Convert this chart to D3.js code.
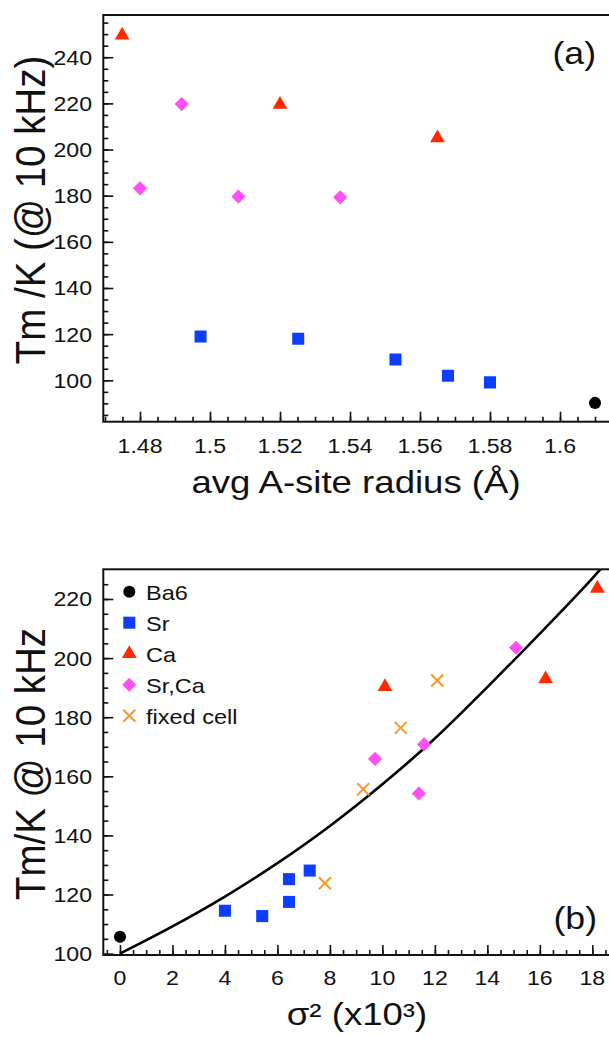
<!DOCTYPE html>
<html>
<head>
<meta charset="utf-8">
<script src="https://cdn.jsdelivr.net/npm/d3@7"></script>
<style>
  html, body { margin: 0; padding: 0; background: #fff; }
  svg { display: block; }
  text { font-family: "Liberation Sans", Arial, Helvetica, sans-serif; fill: #111; }
</style>
</head>
<body>
<svg id="fig" width="609" height="1037"></svg>
<script>
// ---------- panel (a): Tm versus average A-site radius ----------
const radiusBa6  = [[1.610, 90.2]];
const radiusSr   = [[1.4973, 119.0], [1.5252, 118.0], [1.5530, 109.0], [1.5680, 102.0], [1.5800, 99.1]];
const radiusCa   = [[1.4749, 249.5], [1.5200, 219.5], [1.5650, 205.0]];
const radiusSrCa = [[1.4800, 183.2], [1.4919, 219.7], [1.5081, 179.6], [1.5372, 179.3]];

const ticksRadius      = [1.48, 1.50, 1.52, 1.54, 1.56, 1.58, 1.60];
const tickLabelsRadius = ["1.48", "1.5", "1.52", "1.54", "1.56", "1.58", "1.6"];
const ticksTmA         = [100, 120, 140, 160, 180, 200, 220, 240];

// ---------- panel (b): Tm versus sigma^2 ----------
const sigmaBa6   = [[0, 105.7]];
const sigmaSr    = [[4.0, 114.5], [5.42, 112.7], [6.44, 125.2], [6.44, 117.5], [7.23, 128.1]];
const sigmaCa    = [[10.1, 190.3], [16.22, 192.9], [18.19, 223.6]];
const sigmaSrCa  = [[9.72, 165.9], [11.59, 170.8], [11.39, 154.2], [15.09, 203.5]];
const sigmaFixed = [[7.81, 123.8], [9.27, 155.6], [10.7, 176.4], [12.09, 192.4]];
// fitted trend line, sampled along sigma^2
const sigmaFit   = [[0, 100], [2, 109.2], [4, 119.3], [6, 130.6], [8, 143.2], [10, 157.3],
                    [12, 172.8], [14, 190.2], [16, 208.3], [18, 227.0], [19, 237.0]];

const ticksSigma = [0, 2, 4, 6, 8, 10, 12, 14, 16, 18];
const ticksTmB   = [100, 120, 140, 160, 180, 200, 220];

const legendNames = ["Ba6", "Sr", "Ca", "Sr,Ca", "fixed cell"];

// ---------- styling ----------
const COL = { ba6: "#000000", sr: "#0d3dff", ca: "#ff2a00", srca: "#ff4ff6", fixed: "#f39a2c" };
const SYM = {
  ba6:  { type: d3.symbolCircle,   size: 115, rot: 0 },
  sr:   { type: d3.symbolSquare,   size: 145, rot: 0 },
  ca:   { type: d3.symbolTriangle, size: 95,  rot: 0 },
  srca: { type: d3.symbolSquare,   size: 100, rot: 45 }
};
const FONT = "Liberation Sans, Arial, Helvetica, sans-serif";

const svg = d3.select("#fig");

function stretchedText(parent, x, y, str, size, sx, anchor) {
  return parent.append("text")
    .attr("transform", `translate(${x},${y}) scale(${sx},1)`)
    .attr("text-anchor", anchor || "middle")
    .style("font-size", size + "px")
    .text(str);
}

function drawMarkers(g, data, key, x, y) {
  if (key === "fixed") {
    const h = 6;
    g.selectAll(null).data(data).enter().append("path")
      .attr("d", d => {
        const cx = x(d[0]), cy = y(d[1]);
        return `M${cx - h},${cy - h}L${cx + h},${cy + h}M${cx - h},${cy + h}L${cx + h},${cy - h}`;
      })
      .attr("stroke", COL.fixed).attr("stroke-width", 2).attr("fill", "none");
    return;
  }
  const s = SYM[key];
  g.selectAll(null).data(data).enter().append("path")
    .attr("d", d3.symbol().type(s.type).size(s.size))
    .attr("transform", d => `translate(${x(d[0])},${y(d[1])}) rotate(${s.rot})`)
    .attr("fill", COL[key]);
}

function panel(opts) {
  const { left, right, top, bottom, xDomain, yDomain } = opts;
  const x = d3.scaleLinear().domain(xDomain).range([left, right]);
  const y = d3.scaleLinear().domain(yDomain).range([bottom, top]);
  const g = svg.append("g");

  const clipId = "clip" + opts.name;
  svg.append("clipPath").attr("id", clipId)
    .append("rect").attr("x", left).attr("y", top)
    .attr("width", right - left).attr("height", bottom - top);

  // minor and major ticks on the bottom edge, pointing inward
  const xAxisMinor = d3.axisTop(x).tickValues(opts.xMinor).tickSize(5).tickFormat("");
  const xAxisMajor = d3.axisTop(x).tickValues(opts.xMajor).tickSize(10).tickFormat("");
  const yAxisMinor = d3.axisRight(y).tickValues(opts.yMinor).tickSize(5).tickFormat("");
  const yAxisMajor = d3.axisRight(y).tickValues(opts.yMajor).tickSize(10).tickFormat("");
  [xAxisMinor, xAxisMajor].forEach(ax => {
    const a = g.append("g").attr("transform", `translate(0,${bottom})`).call(ax);
    a.select(".domain").remove();
    a.selectAll("line").attr("stroke", "#111").attr("stroke-width", 1.6);
  });
  [yAxisMinor, yAxisMajor].forEach(ax => {
    const a = g.append("g").attr("transform", `translate(${left},0)`).call(ax);
    a.select(".domain").remove();
    a.selectAll("line").attr("stroke", "#111").attr("stroke-width", 1.6);
  });

  // tick labels
  opts.xMajor.forEach((v, i) => {
    stretchedText(g, x(v), opts.xLabelY, opts.xLabels[i], 21, 1.1, "middle");
  });
  opts.yMajor.forEach(v => {
    stretchedText(g, 92, y(v) + 7.5, String(v), 21, 1.1, "end");
  });

  // frame
  g.append("rect").attr("x", left).attr("y", top)
    .attr("width", right - left).attr("height", bottom - top)
    .attr("fill", "none").attr("stroke", "#111").attr("stroke-width", 2);

  // axis titles
  stretchedText(g, opts.xTitleX, opts.xTitleY, opts.xTitle, 31, 1.18, "middle");
  g.append("text")
    .attr("transform", `translate(45,${opts.yTitleY}) rotate(-90) scale(1,1.08)`)
    .attr("text-anchor", "middle")
    .style("font-size", "38.5px")
    .text(opts.yTitle);

  // panel tag
  stretchedText(g, opts.tagX, opts.tagY, opts.tag, 31, 1.15, "end");

  const marks = svg.append("g").attr("clip-path", `url(#${clipId})`);
  return { x, y, marks };
}

// ---------- panel (a) ----------
const A = panel({
  name: "A", left: 103.3, right: 612, top: 15, bottom: 421.7,
  xDomain: [1.46951, 1.61486], yDomain: [82.06, 258.3],
  xMajor: ticksRadius, xLabels: tickLabelsRadius,
  xMinor: d3.range(1.47, 1.6151, 0.005).map(v => +v.toFixed(3)),
  yMajor: ticksTmA, yMinor: d3.range(85, 258, 5),
  xLabelY: 453.3, xTitle: "avg A-site radius (Å)", xTitleX: 356, xTitleY: 493,
  yTitle: "Tm /K (@ 10 kHz)", yTitleY: 210,
  tag: "(a)", tagX: 596, tagY: 64
});
drawMarkers(A.marks, radiusSr, "sr", A.x, A.y);
drawMarkers(A.marks, radiusSrCa, "srca", A.x, A.y);
drawMarkers(A.marks, radiusCa, "ca", A.x, A.y);
drawMarkers(A.marks, radiusBa6, "ba6", A.x, A.y);

// ---------- panel (b) ----------
const B = panel({
  name: "B", left: 103.3, right: 612, top: 569.3, bottom: 955,
  xDomain: [-0.636, 18.75], yDomain: [99.53, 230.05],
  xMajor: ticksSigma, xLabels: ticksSigma.map(String),
  xMinor: d3.range(-0.5, 18.76, 0.5),
  yMajor: ticksTmB, yMinor: d3.range(105, 230, 5),
  xLabelY: 985, xTitle: "σ² (x10³)", xTitleX: 357, xTitleY: 1025,
  yTitle: "Tm/K @ 10 kHz", yTitleY: 764,
  tag: "(b)", tagX: 597, tagY: 929
});

B.marks.append("path")
  .datum(sigmaFit)
  .attr("d", d3.line().x(d => B.x(d[0])).y(d => B.y(d[1])).curve(d3.curveMonotoneX))
  .attr("fill", "none").attr("stroke", "#000").attr("stroke-width", 2.6);

drawMarkers(B.marks, sigmaSr, "sr", B.x, B.y);
drawMarkers(B.marks, sigmaCa, "ca", B.x, B.y);
drawMarkers(B.marks, sigmaSrCa, "srca", B.x, B.y);
drawMarkers(B.marks, sigmaFixed, "fixed", B.x, B.y);
drawMarkers(B.marks, sigmaBa6, "ba6", B.x, B.y);

// legend
const legendKeys = ["ba6", "sr", "ca", "srca", "fixed"];
const legend = svg.append("g");
const legendY = d3.scalePoint().domain(legendKeys).range([591.7, 715.7]);
legendKeys.forEach((k, i) => {
  const ly = legendY(k);
  drawMarkers(legend, [[129.3, ly]], k, v => v, v => v);
  stretchedText(legend, 146, ly + 7.8, legendNames[i], 21, 1.12, "start");
});
</script>
</body>
</html>
